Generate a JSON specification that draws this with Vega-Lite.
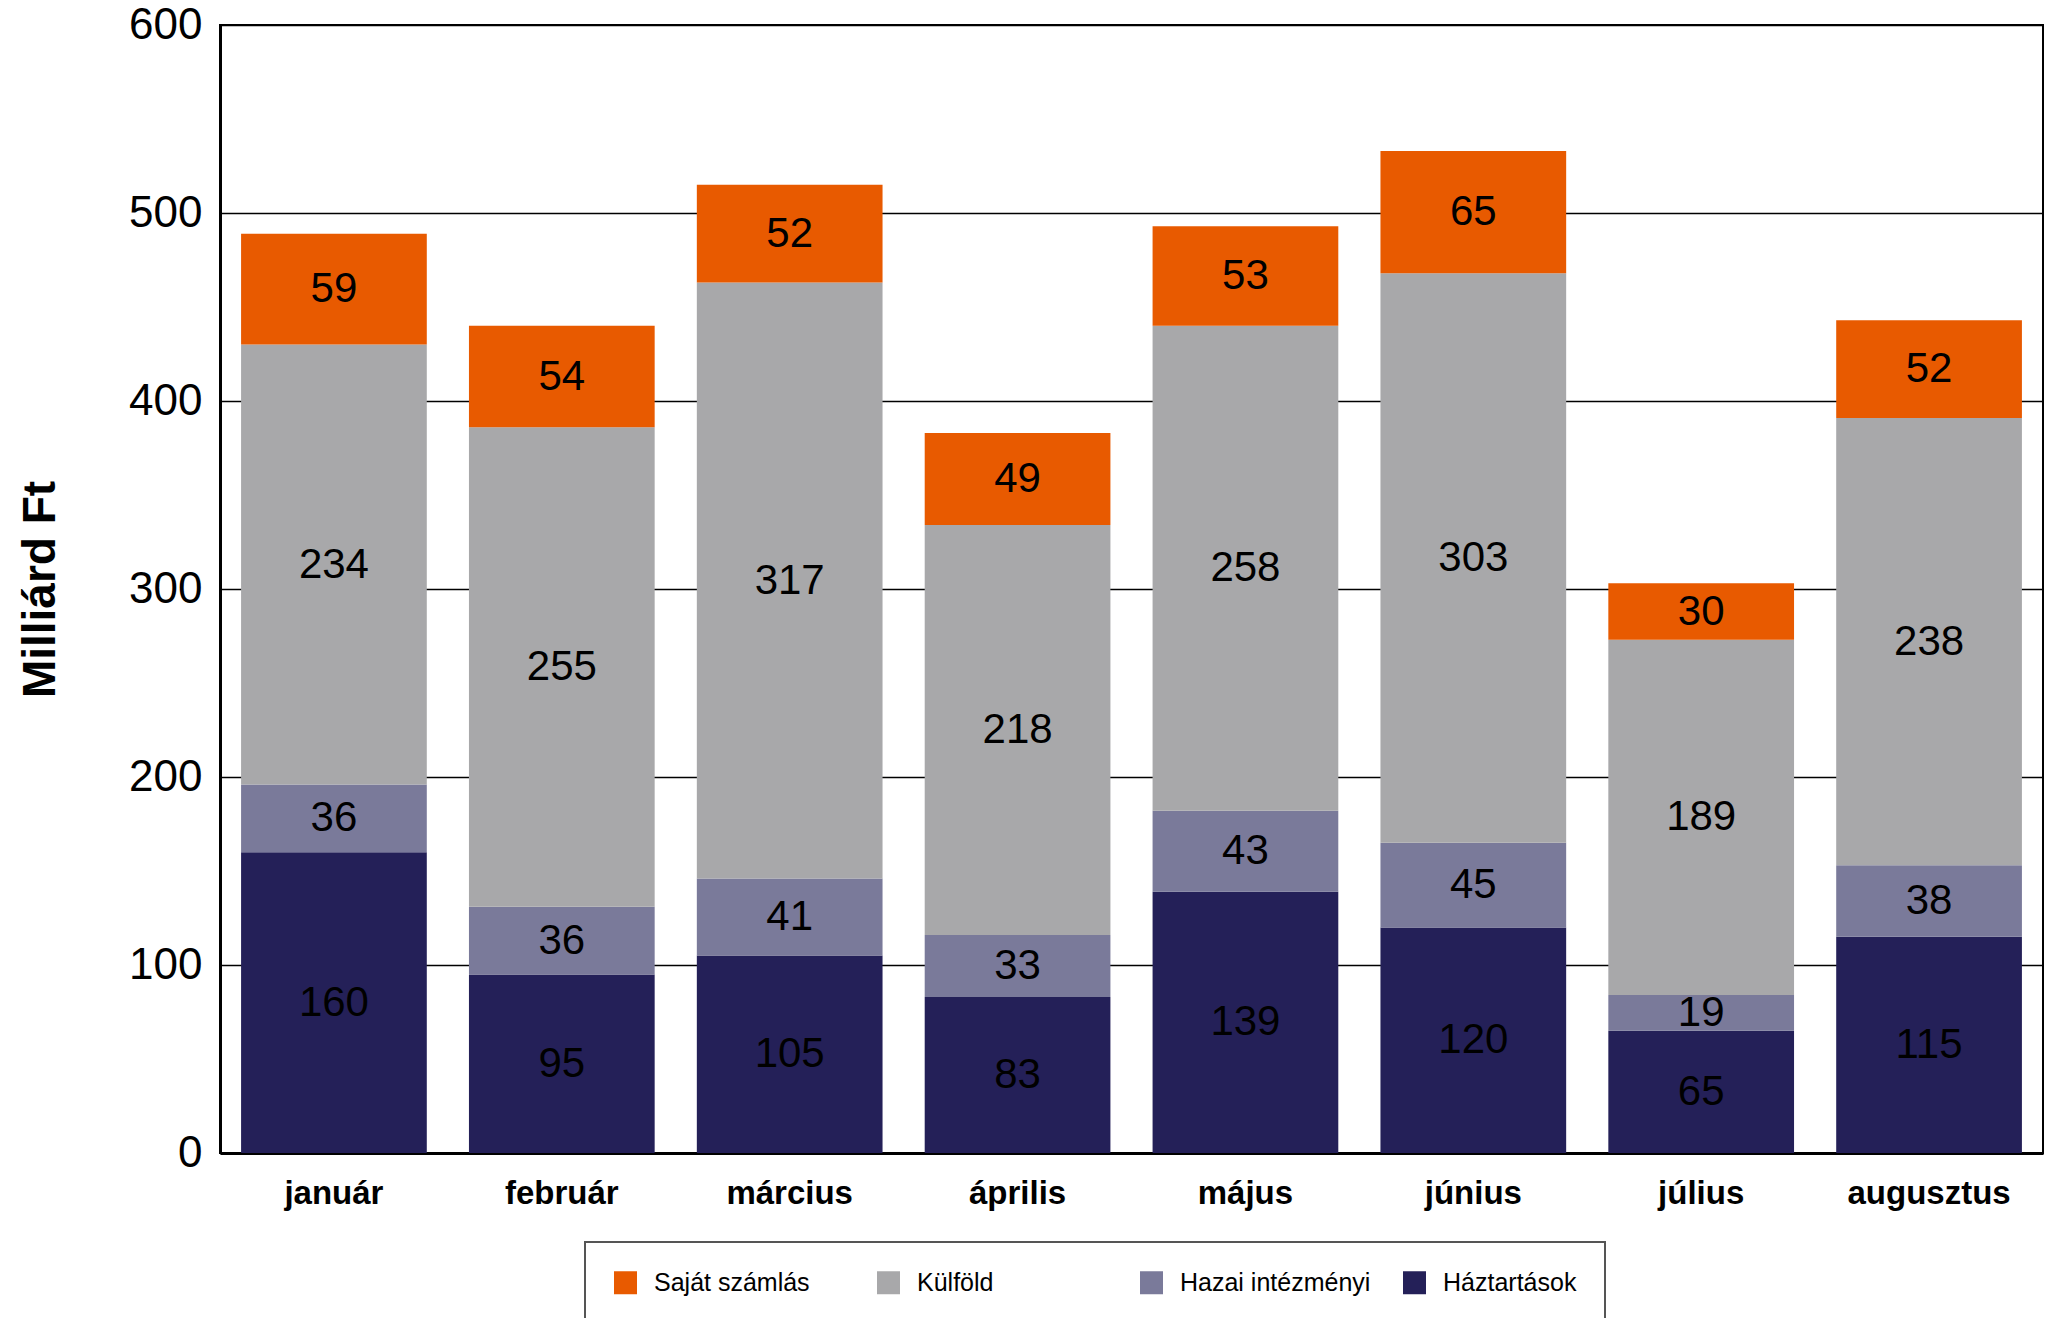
{
  "$schema": "https://vega.github.io/schema/vega-lite/v6.json",
  "width": 1823,
  "height": 1128,
  "autosize": {"type": "none"},
  "padding": {"left": 220, "top": 25, "right": 15, "bottom": 165},
  "background": "white",
  "config": {
    "font": "Liberation Sans",
    "view": {"stroke": "black", "strokeWidth": 2},
    "legend": {"strokeWidth": 2}
  },
  "data": {
    "values": [
      {"month": "január", "series": "Háztartások", "ord": 1, "value": 160},
      {"month": "január", "series": "Hazai intézményi", "ord": 2, "value": 36},
      {"month": "január", "series": "Külföld", "ord": 3, "value": 234},
      {"month": "január", "series": "Saját számlás", "ord": 4, "value": 59},
      {"month": "február", "series": "Háztartások", "ord": 1, "value": 95},
      {"month": "február", "series": "Hazai intézményi", "ord": 2, "value": 36},
      {"month": "február", "series": "Külföld", "ord": 3, "value": 255},
      {"month": "február", "series": "Saját számlás", "ord": 4, "value": 54},
      {"month": "március", "series": "Háztartások", "ord": 1, "value": 105},
      {"month": "március", "series": "Hazai intézményi", "ord": 2, "value": 41},
      {"month": "március", "series": "Külföld", "ord": 3, "value": 317},
      {"month": "március", "series": "Saját számlás", "ord": 4, "value": 52},
      {"month": "április", "series": "Háztartások", "ord": 1, "value": 83},
      {"month": "április", "series": "Hazai intézményi", "ord": 2, "value": 33},
      {"month": "április", "series": "Külföld", "ord": 3, "value": 218},
      {"month": "április", "series": "Saját számlás", "ord": 4, "value": 49},
      {"month": "május", "series": "Háztartások", "ord": 1, "value": 139},
      {"month": "május", "series": "Hazai intézményi", "ord": 2, "value": 43},
      {"month": "május", "series": "Külföld", "ord": 3, "value": 258},
      {"month": "május", "series": "Saját számlás", "ord": 4, "value": 53},
      {"month": "június", "series": "Háztartások", "ord": 1, "value": 120},
      {"month": "június", "series": "Hazai intézményi", "ord": 2, "value": 45},
      {"month": "június", "series": "Külföld", "ord": 3, "value": 303},
      {"month": "június", "series": "Saját számlás", "ord": 4, "value": 65},
      {"month": "július", "series": "Háztartások", "ord": 1, "value": 65},
      {"month": "július", "series": "Hazai intézményi", "ord": 2, "value": 19},
      {"month": "július", "series": "Külföld", "ord": 3, "value": 189},
      {"month": "július", "series": "Saját számlás", "ord": 4, "value": 30},
      {"month": "augusztus", "series": "Háztartások", "ord": 1, "value": 115},
      {"month": "augusztus", "series": "Hazai intézményi", "ord": 2, "value": 38},
      {"month": "augusztus", "series": "Külföld", "ord": 3, "value": 238},
      {"month": "augusztus", "series": "Saját számlás", "ord": 4, "value": 52}
    ]
  },
  "encoding": {
    "x": {
      "field": "month",
      "type": "nominal",
      "sort": ["január", "február", "március", "április", "május", "június", "július", "augusztus"],
      "scale": {"paddingInner": 0.185, "paddingOuter": 0.0925},
      "axis": {
        "title": null,
        "labelAngle": 0,
        "labelFontSize": 33,
        "labelFontWeight": "bold",
        "labelColor": "black",
        "labelPadding": 24,
        "ticks": false,
        "domainColor": "black",
        "domainWidth": 3
      }
    }
  },
  "layer": [
    {
      "mark": {"type": "bar"},
      "encoding": {
        "y": {
          "field": "value",
          "type": "quantitative",
          "stack": "zero",
          "scale": {"domain": [0, 600], "nice": false},
          "axis": {
            "title": "Milliárd Ft",
            "titleFontSize": 46,
            "titleFontWeight": "bold",
            "titleColor": "black",
            "titlePadding": 64,
            "values": [0, 100, 200, 300, 400, 500, 600],
            "labelFontSize": 44,
            "labelColor": "black",
            "labelPadding": 18,
            "ticks": false,
            "domainColor": "black",
            "domainWidth": 3,
            "grid": true,
            "gridColor": "black",
            "gridWidth": 1.5,
            "gridOpacity": 1
          }
        },
        "color": {
          "field": "series",
          "type": "nominal",
          "scale": {
            "domain": ["Saját számlás", "Külföld", "Hazai intézményi", "Háztartások"],
            "range": ["#E85A00", "#A8A8AA", "#7A7A9A", "#242058"]
          },
          "legend": {
            "title": null,
            "orient": "none",
            "legendX": 365,
            "legendY": 1217,
            "direction": "horizontal",
            "columns": 4,
            "gridAlign": "all",
            "symbolType": "square",
            "symbolSize": 529,
            "symbolStrokeWidth": 0,
            "labelFontSize": 25,
            "labelColor": "black",
            "labelLimit": 500,
            "labelOffset": 16,
            "columnPadding": 31,
            "padding": 28,
            "strokeColor": "#555555",
            "fillColor": "white"
          }
        },
        "order": {"field": "ord", "type": "quantitative"}
      }
    },
    {
      "transform": [
        {"stack": "value", "groupby": ["month"], "sort": [{"field": "ord", "order": "ascending"}], "as": ["v0", "v1"]},
        {"calculate": "(datum.v0 + datum.v1) / 2", "as": "vmid"}
      ],
      "mark": {"type": "text", "fontSize": 42, "color": "black", "baseline": "middle", "align": "center"},
      "encoding": {
        "y": {"field": "vmid", "type": "quantitative"},
        "text": {"field": "value", "type": "quantitative"}
      }
    }
  ]
}
